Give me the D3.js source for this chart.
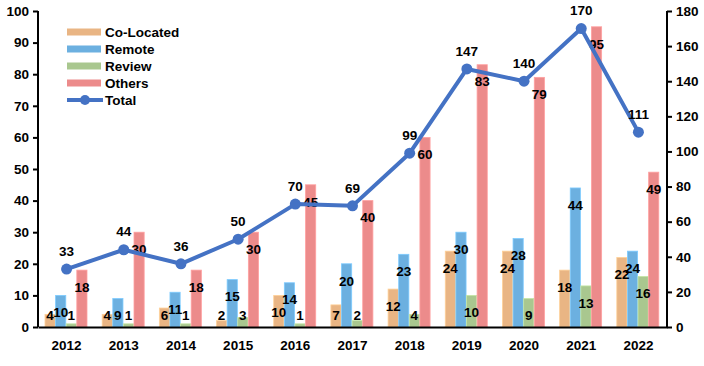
<!DOCTYPE html>
<html>
<head>
<meta charset="utf-8">
<script src="https://cdn.jsdelivr.net/npm/d3@7"></script>
<style>
  body { margin: 0; background: #fff; }
  svg text { font-family: "Liberation Sans", Arial, sans-serif; font-weight: bold; font-size: 13.5px; fill: #000; }
</style>
</head>
<body>
<svg id="chart" width="704" height="366"></svg>
<script>
// data
var years = ["2012", "2013", "2014", "2015", "2016", "2017", "2018", "2019", "2020", "2021", "2022"];
var seriesNames = ["Co-Located", "Remote", "Review", "Others"];
var coLocated = [4, 4, 6, 2, 10, 7, 12, 24, 24, 18, 22];
var remote = [10, 9, 11, 15, 14, 20, 23, 30, 28, 44, 24];
var review = [1, 1, 1, 3, 1, 2, 4, 10, 9, 13, 16];
var others = [18, 30, 18, 30, 45, 40, 60, 83, 79, 95, 49];
var total = [33, 44, 36, 50, 70, 69, 99, 147, 140, 170, 111];
var leftTicks = [0, 10, 20, 30, 40, 50, 60, 70, 80, 90, 100];
var rightTicks = [0, 20, 40, 60, 80, 100, 120, 140, 160, 180];

var barColors = ["#E9B584", "#6CB0E0", "#A9C78F", "#EC8B8B"];
var lineColor = "#4472C4";
var seriesData = [coLocated, remote, review, others];

var svg = d3.select("#chart");
var plotL = 38, plotR = 667, plotT = 11, plotB = 327;

var x = d3.scaleBand().domain(years).range([plotL, plotR]).padding(0);
var xs = d3.scaleBand().domain(seriesNames).range([7, 49]).paddingInner(0.04);
var y = d3.scaleLinear().domain([0, 100]).range([plotB, plotT]);
var y2 = d3.scaleLinear().domain([0, 180]).range([plotB, plotT]);

// bars
var groups = svg.append("g").selectAll("g")
  .data(years)
  .join("g")
  .attr("transform", function (d) { return "translate(" + x(d) + ",0)"; });

groups.selectAll("rect")
  .data(function (d, i) {
    return seriesNames.map(function (s, k) { return { s: s, k: k, v: seriesData[k][i] }; });
  })
  .join("rect")
  .attr("x", function (d) { return xs(d.s); })
  .attr("width", xs.bandwidth())
  .attr("y", function (d) { return y(d.v); })
  .attr("height", function (d) { return plotB - y(d.v); })
  .attr("fill", function (d) { return barColors[d.k]; })
  .attr("stroke", function (d) { return d3.color(barColors[d.k]).brighter(0.4); })
  .attr("stroke-width", 0.8);

// bar labels (inside end)
groups.selectAll("text")
  .data(function (d, i) {
    return seriesNames.map(function (s, k) { return { s: s, k: k, v: seriesData[k][i] }; });
  })
  .join("text")
  .attr("x", function (d) { return xs(d.s) + xs.bandwidth() / 2; })
  .attr("y", function (d) { return Math.min(y(d.v) + 17, plotB - 12); })
  .attr("dy", "0.35em")
  .attr("text-anchor", "middle")
  .text(function (d) { return d.v; });

// total line
var line = d3.line()
  .x(function (d, i) { return x(years[i]) + x.bandwidth() / 2; })
  .y(function (d) { return y2(d); });

svg.append("path")
  .datum(total)
  .attr("d", line)
  .attr("fill", "none")
  .attr("stroke", lineColor)
  .attr("stroke-width", 4)
  .attr("stroke-linejoin", "round");

svg.append("g").selectAll("circle")
  .data(total)
  .join("circle")
  .attr("cx", function (d, i) { return x(years[i]) + x.bandwidth() / 2; })
  .attr("cy", function (d) { return y2(d); })
  .attr("r", 5.5)
  .attr("fill", lineColor);

svg.append("g").selectAll("text")
  .data(total)
  .join("text")
  .attr("x", function (d, i) { return x(years[i]) + x.bandwidth() / 2; })
  .attr("y", function (d) { return y2(d) - 18; })
  .attr("dy", "0.35em")
  .attr("text-anchor", "middle")
  .text(function (d) { return d; });

// axes
var axLeft = svg.append("g")
  .attr("transform", "translate(" + plotL + ",0)")
  .call(d3.axisLeft(y).tickValues(leftTicks).tickSize(5).tickPadding(4));
var axRight = svg.append("g")
  .attr("transform", "translate(" + plotR + ",0)")
  .call(d3.axisRight(y2).tickValues(rightTicks).tickSize(5).tickPadding(4));
var axBottom = svg.append("g")
  .attr("transform", "translate(0," + plotB + ")")
  .call(d3.axisBottom(x).tickSize(0).tickPadding(13));

[axLeft, axRight, axBottom].forEach(function (a) {
  a.select(".domain").attr("stroke", "#000").attr("stroke-width", 2);
  a.selectAll(".tick line").attr("stroke", "#000").attr("stroke-width", 2);
  a.selectAll("text").attr("font-size", null).attr("font-family", null);
});
axLeft.select(".domain").attr("d", "M0," + plotT + "V" + plotB);
axRight.select(".domain").attr("d", "M0," + plotT + "V" + plotB);

// legend
var legend = svg.append("g").attr("transform", "translate(67,0)");
seriesNames.forEach(function (s, k) {
  var ly = 32 + k * 17;
  legend.append("rect")
    .attr("x", 0).attr("y", ly - 3.5)
    .attr("width", 34).attr("height", 7)
    .attr("fill", barColors[k]);
  legend.append("text")
    .attr("x", 38).attr("y", ly).attr("dy", "0.35em")
    .text(s);
});
var ty = 32 + 4 * 17;
legend.append("line")
  .attr("x1", 0).attr("x2", 36).attr("y1", ty).attr("y2", ty)
  .attr("stroke", lineColor).attr("stroke-width", 4);
legend.append("circle")
  .attr("cx", 18).attr("cy", ty).attr("r", 5).attr("fill", lineColor);
legend.append("text")
  .attr("x", 38).attr("y", ty).attr("dy", "0.35em")
  .text("Total");
</script>
</body>
</html>
